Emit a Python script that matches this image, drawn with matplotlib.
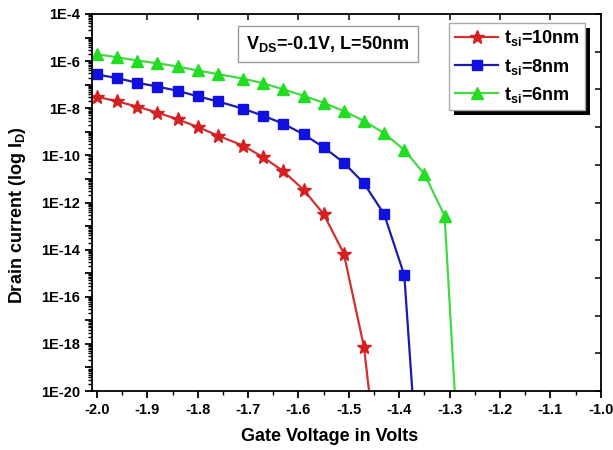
import numpy as np
import matplotlib
matplotlib.use("Agg")
import matplotlib.pyplot as plt
from matplotlib.ticker import FixedLocator, FuncFormatter, LogLocator, MultipleLocator, NullFormatter
from matplotlib.patches import Rectangle

plt.rcParams['font.family'] = ['Liberation Sans', 'DejaVu Sans']
plt.rcParams['font.weight'] = 'bold'
plt.rcParams['mathtext.fontset'] = 'custom'
plt.rcParams['mathtext.rm'] = 'Liberation Sans:bold'
plt.rcParams['mathtext.it'] = 'Liberation Sans:bold'
plt.rcParams['mathtext.bf'] = 'Liberation Sans:bold'

# Gate voltage sweep (V)
vg = [-2.0, -1.96, -1.92, -1.88, -1.84, -1.80, -1.76, -1.71, -1.67, -1.63,
      -1.59, -1.55, -1.51, -1.47, -1.43, -1.39, -1.35, -1.31, -1.27]

# Drain current (A) for each silicon thickness; the last value of each
# series lies below the plotted range (device fully off)
id_10nm = [3.1e-8, 1.95e-8, 1.17e-8, 6.5e-9, 3.4e-9, 1.6e-9, 6.9e-10, 2.6e-10,
           8.3e-11, 2.1e-11, 3.5e-12, 3.2e-13, 6.8e-15, 7.4e-19, 2.5e-26]
id_8nm = [2.7e-7, 1.9e-7, 1.2e-7, 8.3e-8, 5.5e-8, 3.2e-8, 1.95e-8, 9.5e-9,
          4.8e-9, 2.2e-9, 7.8e-10, 2.2e-10, 4.9e-11, 6.5e-12, 3.2e-13, 8.3e-16,
          4e-28]
id_6nm = [1.95e-6, 1.45e-6, 1.05e-6, 8.1e-7, 5.9e-7, 4.0e-7, 2.8e-7, 1.8e-7,
          1.15e-7, 6.3e-8, 3.4e-8, 1.7e-8, 7.6e-9, 2.9e-9, 8.7e-10, 1.7e-10,
          1.6e-11, 2.75e-13, 4e-28]

labels = [r'$\mathrm{t_{si}}$=10nm', r'$\mathrm{t_{si}}$=8nm', r'$\mathrm{t_{si}}$=6nm']
xtick_vals = [-2.0, -1.9, -1.8, -1.7, -1.6, -1.5, -1.4, -1.3, -1.2, -1.1, -1.0]
ytick_exps = list(range(-20, -3, 2))

fig = plt.figure(figsize=(6.13, 4.5), dpi=100)
ax = fig.add_axes([0.150, 0.131, 0.830, 0.838])

ax.plot(vg[:len(id_10nm)], id_10nm, color='#cf3030', lw=1.6, marker='*',
        ms=10, mec='#d42020', mfc='#d42020', label=labels[0])
ax.plot(vg[:len(id_8nm)], id_8nm, color='#1c1ca8', lw=1.6, marker='s',
        ms=6.5, mec='#1010e0', mfc='#1010e0', label=labels[1])
ax.plot(vg[:len(id_6nm)], id_6nm, color='#44d844', lw=1.6, marker='^',
        ms=8, mec='#22dd22', mfc='#22dd22', label=labels[2])

ax.set_yscale('log')
ax.set_xlim(-2.01, -1.0)
ax.set_ylim(1e-20, 1e-4)

ax.xaxis.set_major_locator(FixedLocator(xtick_vals))
ax.xaxis.set_minor_locator(MultipleLocator(0.05))
ax.xaxis.set_major_formatter(FuncFormatter(lambda v, p: f"{v:.1f}"))

ax.yaxis.set_major_locator(FixedLocator([10.0 ** e for e in range(-20, -3)]))
ax.yaxis.set_major_formatter(FuncFormatter(
    lambda v, p: f"1E{int(round(np.log10(v)))}" if int(round(np.log10(v))) in ytick_exps else ""))
ax.yaxis.set_minor_locator(LogLocator(base=10, subs=np.arange(2, 10), numticks=200))
ax.yaxis.set_minor_formatter(NullFormatter())

ax.tick_params(axis='both', which='major', direction='out', length=5, width=1.3,
               labelsize=10.5, top=False, right=False)
ax.tick_params(axis='both', which='minor', direction='out', length=3, width=1.0,
               top=False, right=False)
for lab in ax.get_xticklabels() + ax.get_yticklabels():
    lab.set_fontweight('bold')
for sp in ax.spines.values():
    sp.set_linewidth(1.3)

# mirrored inward ticks on the top and right frame
axt = ax.twiny()
axt.set_xlim(ax.get_xlim())
axt.set_xticks(xtick_vals[1:-1])
axt.tick_params(axis='x', direction='in', length=4, width=1.1, labeltop=False)
axr = ax.twinx()
axr.set_ylim(0, 10)
axr.set_yticks(range(11))
axr.tick_params(axis='y', direction='in', length=4, width=1.1, labelright=False)
for a in (axt, axr):
    for sp in a.spines.values():
        sp.set_visible(False)

ax.set_xlabel('Gate Voltage in Volts', fontsize=13, fontweight='bold')
ax.xaxis.set_label_coords(0.468, -0.098)
ax.set_ylabel(r'Drain current (log $\mathrm{I_D}$)', fontsize=13, fontweight='bold')
ax.yaxis.set_label_coords(-0.125, 0.467)

ax.text(0.4637, 0.920, r'$\mathrm{V_{DS}}$=-0.1V, L=50nm', transform=ax.transAxes,
        ha='center', va='center', fontsize=13, fontweight='bold',
        bbox=dict(boxstyle='square,pad=0.45', fc='white', ec='#999999', lw=1.0))

leg = ax.legend(loc='upper right', bbox_to_anchor=(0.9686, 0.976), borderaxespad=0,
                frameon=True, fancybox=False, framealpha=1.0, handlelength=2.4,
                handletextpad=0.3, labelspacing=0.45, borderpad=0.3,
                prop={'weight': 'bold', 'size': 13})
leg.get_frame().set_edgecolor('#aaaaaa')
leg.get_frame().set_facecolor('white')
leg.get_frame().set_linewidth(1.0)
leg.set_zorder(6)

fig.canvas.draw()
bb = leg.get_window_extent()
shadow = Rectangle((bb.x0 + 5, bb.y0 - 5), bb.width, bb.height, transform=None,
                   facecolor='black', edgecolor='none', zorder=5.5, clip_on=False)
ax.add_artist(shadow)

fig.savefig('out.png', dpi=100)
